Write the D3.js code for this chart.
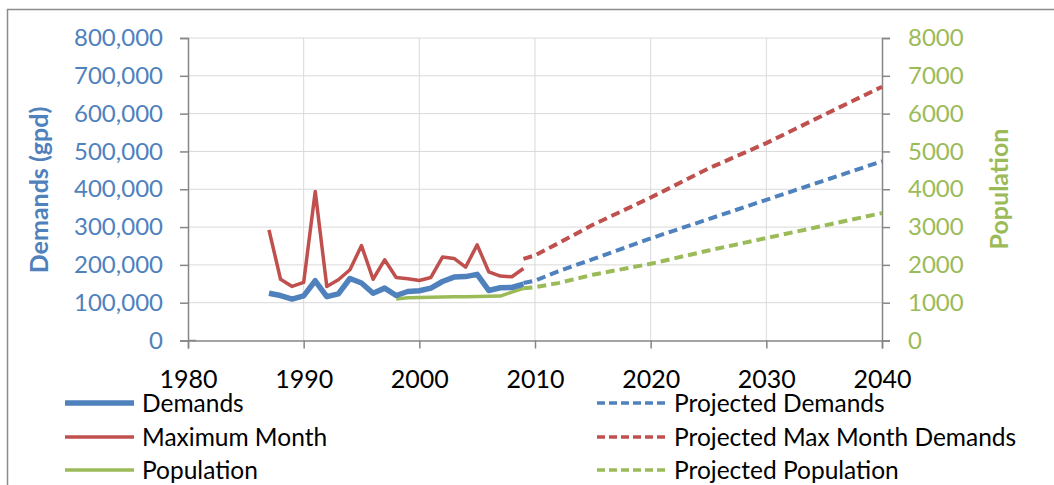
<!DOCTYPE html>
<html>
<head>
<meta charset="utf-8">
<script src="https://d3js.org/d3.v7.min.js"></script>
<style>
body { margin: 0; background: #fff; }
svg { display: block; font-family: Lato, "Open Sans", sans-serif; }
</style>
</head>
<body>
<svg id="chart"></svg>
<script>
var width = 1054, height = 485;

// historic series (years 1987-2009)
var demandYears = d3.range(1987, 2010);
var demands = [125000, 119000, 109500, 118000, 158000, 116000, 123500, 164000, 152000, 125000, 138500, 119000,
  129600, 131500, 138600, 156000, 167700, 169000, 175000, 132300, 139400, 140200, 149000];
var maxMonth = [292800, 162000, 143000, 153500, 394000, 143000, 160600, 187000, 251000, 162000, 213500, 166700,
  163200, 158700, 166700, 220600, 217000, 194000, 253000, 181700, 170300, 168500, 190500];
var popYears = d3.range(1998, 2010);
var population = [1100, 1130, 1140, 1145, 1150, 1155, 1160, 1165, 1170, 1175, 1280, 1380];

// projections
var projYears = [2009, 2010, 2012, 2015, 2020, 2025, 2030, 2035, 2040];
var projDemands = [152000, 158000, 183000, 215000, 270000, 321000, 372000, 423000, 474000];
var projMaxMonth = [216000, 225000, 257000, 306000, 378000, 455000, 522000, 597000, 671000];
var projPopulation = [1380, 1410, 1518, 1740, 2029, 2380, 2709, 3040, 3370];

var xTicks = [1980, 1990, 2000, 2010, 2020, 2030, 2040];
var yTicks = [0, 100000, 200000, 300000, 400000, 500000, 600000, 700000, 800000];
var y2Ticks = [0, 1000, 2000, 3000, 4000, 5000, 6000, 7000, 8000];

var blue = "#4F81BD", red = "#C0504D", green = "#9BBB59";

var plotLeft = 188, plotRight = 882, plotTop = 38, plotBottom = 340.5;

var svg = d3.select("#chart").attr("width", width).attr("height", height);

var x = d3.scaleLinear().domain([1980, 2040]).range([plotLeft, plotRight]);
var y = d3.scaleLinear().domain([0, 800000]).range([plotBottom, plotTop]);
var y2 = d3.scaleLinear().domain([0, 8000]).range([plotBottom, plotTop]);

// chart border
svg.append("rect").attr("x", 7.5).attr("y", 9.5).attr("width", 1100).attr("height", 600)
  .style("fill", "none").style("stroke", "#8c8c8c").style("stroke-width", 1.5);

// gridlines
svg.append("g").selectAll("line").data(yTicks.slice(1)).enter().append("line")
  .attr("x1", plotLeft).attr("x2", plotRight)
  .attr("y1", function (d) { return y(d); }).attr("y2", function (d) { return y(d); })
  .style("stroke", "#d9d9d9").style("stroke-width", 1);
svg.append("g").selectAll("line").data(xTicks.slice(1, -1)).enter().append("line")
  .attr("x1", function (d) { return x(d); }).attr("x2", function (d) { return x(d); })
  .attr("y1", plotTop).attr("y2", plotBottom)
  .style("stroke", "#d9d9d9").style("stroke-width", 1);

// axes
var yAxis = svg.append("g").attr("transform", "translate(" + plotLeft + ",0)")
  .call(d3.axisLeft(y).tickValues(yTicks).tickSize(8).tickPadding(17).tickFormat(d3.format(",")));
var y2Axis = svg.append("g").attr("transform", "translate(" + plotRight + ",0)")
  .call(d3.axisRight(y2).tickValues(y2Ticks).tickSize(8).tickPadding(18).tickFormat(d3.format("d")));
var xAxis = svg.append("g").attr("transform", "translate(0," + plotBottom + ")")
  .call(d3.axisBottom(x).tickValues(xTicks).tickSize(8).tickPadding(31).tickFormat(d3.format("d")));

[yAxis, y2Axis, xAxis].forEach(function (g) {
  g.select(".domain").style("stroke", "#868686").style("stroke-width", 1.5);
  g.selectAll(".tick line").style("stroke", "#868686").style("stroke-width", 1.5);
  g.selectAll("text").style("font-family", "Lato, sans-serif").style("font-size", "24px");
});
yAxis.selectAll("text").style("fill", blue);
y2Axis.selectAll("text").style("fill", green);
xAxis.selectAll("text").style("fill", "#000").style("font-size", "25px").attr("dy", "0.35em");
// 0 tick on left crosses the axis a bit
svg.append("line").attr("x1", plotLeft).attr("x2", plotLeft + 8).attr("y1", plotBottom).attr("y2", plotBottom)
  .style("stroke", "#868686").style("stroke-width", 1.5);

// axis titles
svg.append("text").attr("transform", "translate(48,190) rotate(-90)")
  .attr("text-anchor", "middle").style("font-weight", "bold").style("font-size", "25px")
  .style("fill", blue).text("Demands (gpd)");
svg.append("text").attr("transform", "translate(1008,189) rotate(-90)")
  .attr("text-anchor", "middle").style("font-weight", "bold").style("font-size", "25px")
  .style("fill", green).text("Population");

// lines
var lineY = d3.line().x(function (d) { return x(d[0]); }).y(function (d) { return y(d[1]); });
var lineY2 = d3.line().x(function (d) { return x(d[0]); }).y(function (d) { return y2(d[1]); });

function draw(gen, years, vals, color, w, dash) {
  var p = svg.append("path").datum(d3.zip(years, vals)).attr("d", gen)
    .style("fill", "none").style("stroke", color).style("stroke-width", w)
    .style("stroke-linejoin", "round");
  if (dash) p.style("stroke-dasharray", dash);
}

draw(lineY2, popYears, population, green, 3.5);
draw(lineY, demandYears, maxMonth, red, 3.5);
draw(lineY, demandYears, demands, blue, 5.5);
draw(lineY2, projYears, projPopulation, green, 4, "9,5");
draw(lineY, projYears, projMaxMonth, red, 4, "9,5");
draw(lineY, projYears, projDemands, blue, 4, "9,5");

// legend
var legend = [
  { label: "Demands", color: blue, w: 5.5, dash: null, col: 0, row: 0 },
  { label: "Maximum Month", color: red, w: 3.5, dash: null, col: 0, row: 1 },
  { label: "Population", color: green, w: 3.5, dash: null, col: 0, row: 2 },
  { label: "Projected Demands", color: blue, w: 3.5, dash: "8,4", col: 1, row: 0 },
  { label: "Projected Max Month Demands", color: red, w: 3.5, dash: "8,4", col: 1, row: 1 },
  { label: "Projected Population", color: green, w: 3.5, dash: "8,4", col: 1, row: 2 }
];
var colX = [65, 597], rowY = [403, 437, 470];
var items = svg.append("g").selectAll("g").data(legend).enter().append("g")
  .attr("transform", function (d) { return "translate(" + colX[d.col] + "," + rowY[d.row] + ")"; });
items.append("line").attr("x1", 0).attr("x2", 69).attr("y1", 0).attr("y2", 0)
  .style("stroke", function (d) { return d.color; })
  .style("stroke-width", function (d) { return d.w; })
  .style("stroke-dasharray", function (d) { return d.dash; });
items.append("text").attr("x", 77).attr("y", 0).attr("dy", "0.35em")
  .style("font-size", "24.5px").style("fill", "#000")
  .text(function (d) { return d.label; });
</script>
</body>
</html>
